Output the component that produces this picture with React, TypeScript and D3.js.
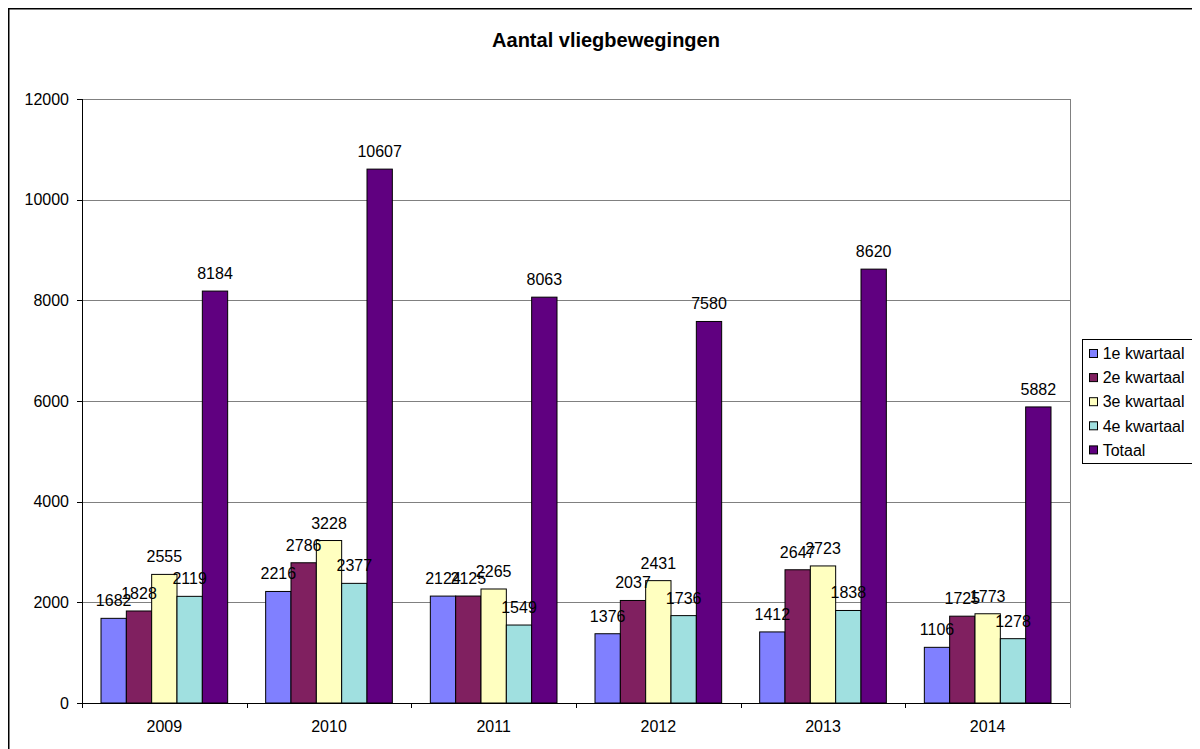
import React from "react";
import * as d3 from "d3";

const years = ["2009", "2010", "2011", "2012", "2013", "2014"];
const seriesNames = ["1e kwartaal", "2e kwartaal", "3e kwartaal", "4e kwartaal", "Totaal"];
const seriesColors = ["#8080FF", "#802060", "#FFFFC0", "#A0E0E0", "#600080"];
const q1 = [1682, 2216, 2124, 1376, 1412, 1106];
const q2 = [1828, 2786, 2125, 2037, 2647, 1725];
const q3 = [2555, 3228, 2265, 2431, 2723, 1773];
const q4 = [2119, 2377, 1549, 1736, 1838, 1278];
const totaal = [8184, 10607, 8063, 7580, 8620, 5882];
const yTicks = [0, 2000, 4000, 6000, 8000, 10000, 12000];
const title = "Aantal vliegbewegingen";

const seriesValues = [q1, q2, q3, q4, totaal];

export default function App() {
  const W = 1192;
  const H = 741;
  const left = 74;
  const right = 1062;
  const top = 91;
  const bottom = 695;
  const font = "Arial, 'Liberation Sans', sans-serif";

  const x = d3.scaleBand<string>().domain(years).range([left, right]).padding(0);
  const inner = d3
    .scaleBand<string>()
    .domain(seriesNames)
    .range([0, x.bandwidth()])
    .paddingInner(0)
    .paddingOuter(0.75);
  const y = d3.scaleLinear().domain([0, 12000]).range([bottom, top]);

  const legendX = 1074.5;
  const legendY = 331.5;
  const legendW = 115.5;
  const legendH = 124;
  const rowH = 24.1;

  return (
    <svg width={W} height={H} style={{ display: "block", fontFamily: font }}>
      <rect x={0.75} y={0.75} width={3000} height={3000} fill="white" stroke="black" strokeWidth={1.5} />
      <text x={598} y={39.3} textAnchor="middle" fontSize={20} fontWeight="bold" fill="black">
        {title}
      </text>
      {/* gridlines */}
      {yTicks.filter((t) => t > 0).map((t) => (
        <line key={t} x1={left} x2={right} y1={Math.round(y(t)) + 0.5} y2={Math.round(y(t)) + 0.5} stroke="#808080" strokeWidth={1} />
      ))}
      <line x1={right + 0.5} x2={right + 0.5} y1={top} y2={bottom + 5} stroke="#808080" strokeWidth={1} />
      {/* bars */}
      {seriesValues.map((vals, si) =>
        vals.map((v, i) => {
          const bx = (x(years[i]) as number) + (inner(seriesNames[si]) as number);
          const by = y(v);
          return (
            <rect
              key={`${si}-${i}`}
              x={bx}
              y={by}
              width={inner.bandwidth()}
              height={bottom - by}
              fill={seriesColors[si]}
              stroke="black"
              strokeWidth={1}
            />
          );
        })
      )}
      {/* labels */}
      {seriesValues.map((vals, si) =>
        vals.map((v, i) => {
          const bx = (x(years[i]) as number) + (inner(seriesNames[si]) as number) + inner.bandwidth() / 2;
          return (
            <text key={`l${si}-${i}`} x={bx} y={y(v) - 12} textAnchor="middle" fontSize={16} fill="black">
              {v}
            </text>
          );
        })
      )}
      {/* y axis */}
      <line x1={left + 0.5} x2={left + 0.5} y1={top} y2={bottom} stroke="black" strokeWidth={1} />
      {yTicks.map((t) => (
        <g key={`yt${t}`}>
          <line x1={left - 5} x2={left} y1={Math.round(y(t)) + 0.5} y2={Math.round(y(t)) + 0.5} stroke="black" strokeWidth={1} />
          <text x={61} y={y(t)} dy="0.36em" textAnchor="end" fontSize={16} fill="black">
            {t}
          </text>
        </g>
      ))}
      {/* x axis */}
      <line x1={left} x2={right} y1={bottom + 0.5} y2={bottom + 0.5} stroke="black" strokeWidth={1} />
      {years.map((yr, i) => (
        <g key={`xt${yr}`}>
          <line
            x1={Math.round(x(yr) as number) + 0.5}
            x2={Math.round(x(yr) as number) + 0.5}
            y1={bottom}
            y2={bottom + 5}
            stroke="black"
            strokeWidth={1}
          />
          <text x={(x(yr) as number) + x.bandwidth() / 2} y={724} textAnchor="middle" fontSize={16} fill="black">
            {yr}
          </text>
        </g>
      ))}
      {/* legend */}
      <rect x={legendX} y={legendY} width={legendW} height={legendH} fill="white" stroke="black" strokeWidth={1} />
      {seriesNames.map((name, i) => {
        const cy = 345.5 + i * rowH;
        return (
          <g key={`lg${name}`}>
            <rect x={1081.5} y={cy - 4} width={8} height={8} fill={seriesColors[i]} stroke="black" strokeWidth={1} />
            <text x={1094.7} y={cy} dy="0.36em" fontSize={16} fill="black">
              {name}
            </text>
          </g>
        );
      })}
    </svg>
  );
}
